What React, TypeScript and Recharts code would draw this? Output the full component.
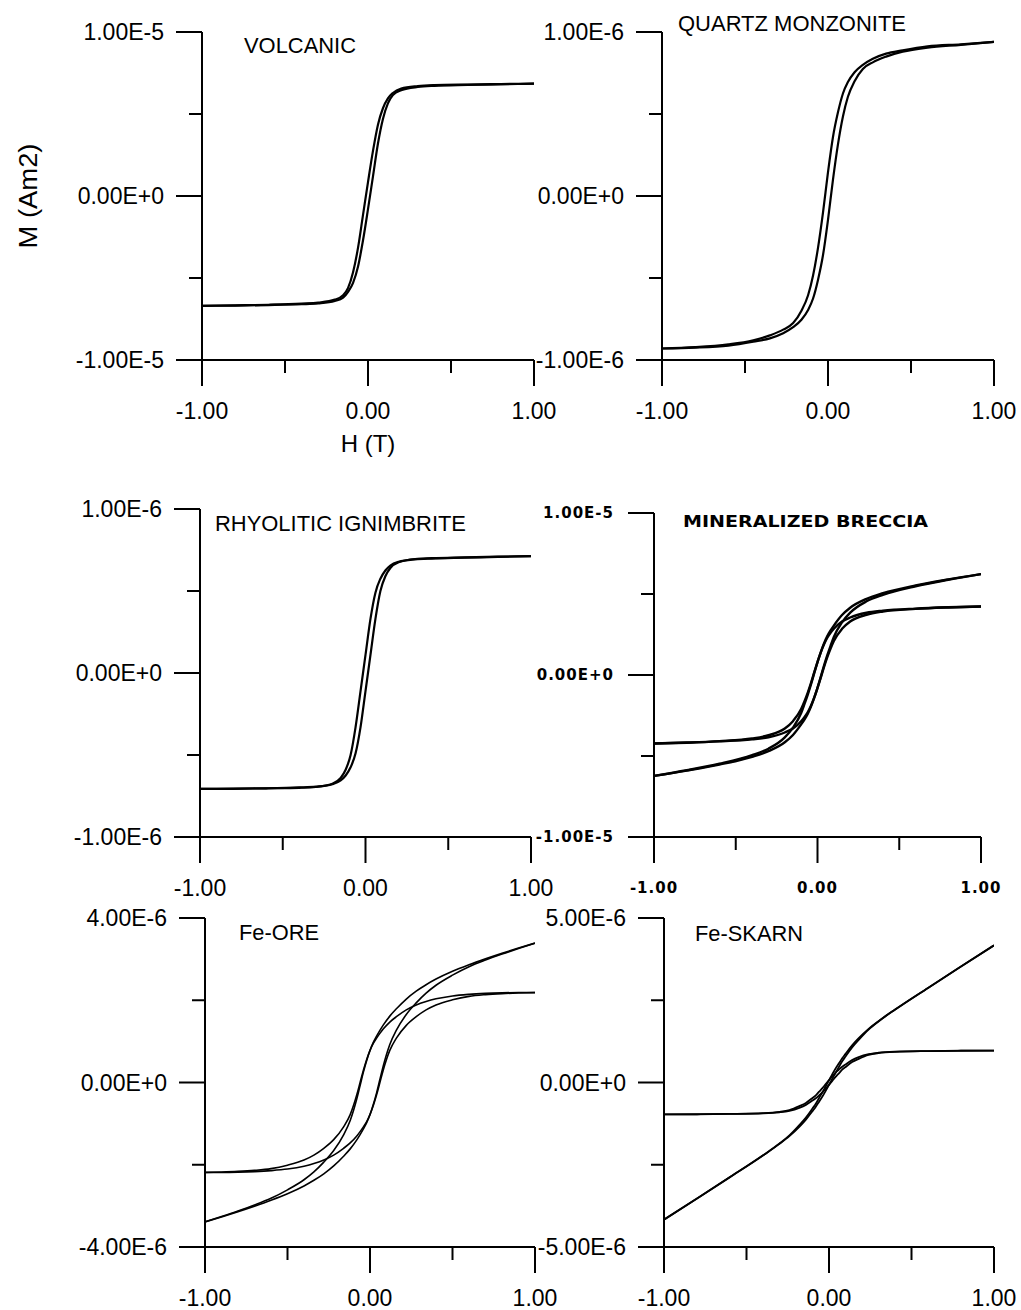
import React from 'react';
import { LineChart, Line, XAxis, YAxis } from 'recharts';

// ---------- applied field H (T) grids ----------
const H_VOLCANIC = [-1, -0.8, -0.6, -0.4, -0.3, -0.2, -0.15, -0.12, -0.09, -0.06, -0.03, 0, 0.03, 0.06, 0.09, 0.12, 0.15, 0.2, 0.3, 0.4, 0.6, 0.8, 1];
const H_QUARTZ = [-1, -0.8, -0.6, -0.45, -0.35, -0.27, -0.21, -0.16, -0.12, -0.09, -0.06, -0.03, 0, 0.03, 0.06, 0.09, 0.12, 0.16, 0.21, 0.27, 0.35, 0.45, 0.6, 0.8, 1];
const H_RHYOLITIC = [-1, -0.8, -0.6, -0.4, -0.3, -0.2, -0.15, -0.12, -0.09, -0.06, -0.03, 0, 0.03, 0.06, 0.09, 0.12, 0.15, 0.2, 0.3, 0.4, 0.6, 0.8, 1];
const H_BRECCIA = [-1, -0.8, -0.6, -0.4, -0.3, -0.2, -0.15, -0.1, -0.08, -0.06, -0.04, -0.02, 0, 0.02, 0.04, 0.06, 0.08, 0.1, 0.15, 0.2, 0.3, 0.4, 0.6, 0.8, 1];
const H_FEORE = [-1, -0.9, -0.8, -0.7, -0.6, -0.5, -0.4, -0.34, -0.28, -0.22, -0.16, -0.12, -0.08, -0.06, -0.04, -0.02, 0, 0.02, 0.04, 0.06, 0.08, 0.12, 0.16, 0.22, 0.28, 0.34, 0.4, 0.5, 0.6, 0.7, 0.8, 0.9, 1];
const H_FESKARN = [-1, -0.8, -0.6, -0.4, -0.3, -0.24, -0.18, -0.14, -0.1, -0.08, -0.06, -0.04, -0.02, 0, 0.02, 0.04, 0.06, 0.08, 0.1, 0.14, 0.18, 0.24, 0.3, 0.4, 0.6, 0.8, 1];

// ---------- magnetisation M (in units of each panel's exponent) ----------
// VOLCANIC (x 1E-5)
const M_VOLCANIC_ASC = [-0.670, -0.668, -0.665, -0.660, -0.655, -0.640, -0.620, -0.585, -0.530, -0.430, -0.270, -0.080, 0.120, 0.320, 0.470, 0.565, 0.615, 0.645, 0.665, 0.672, 0.677, 0.681, 0.685];
const M_VOLCANIC_DESC = [-0.670, -0.667, -0.663, -0.656, -0.650, -0.632, -0.605, -0.560, -0.465, -0.315, -0.115, 0.085, 0.275, 0.435, 0.535, 0.595, 0.628, 0.655, 0.670, 0.676, 0.680, 0.683, 0.685];
// QUARTZ MONZONITE (x 1E-6)
const M_QUARTZ_ASC = [-0.93, -0.925, -0.912, -0.888, -0.868, -0.837, -0.80, -0.755, -0.695, -0.625, -0.51, -0.36, -0.145, 0.10, 0.315, 0.485, 0.605, 0.70, 0.775, 0.815, 0.85, 0.88, 0.905, 0.922, 0.94];
const M_QUARTZ_DESC = [-0.93, -0.922, -0.905, -0.88, -0.85, -0.815, -0.775, -0.70, -0.605, -0.485, -0.315, -0.10, 0.145, 0.36, 0.51, 0.625, 0.695, 0.755, 0.80, 0.837, 0.868, 0.888, 0.912, 0.925, 0.94];
// RHYOLITIC IGNIMBRITE (x 1E-6)
const M_RHYOLITIC_ASC = [-0.707, -0.705, -0.703, -0.698, -0.693, -0.678, -0.655, -0.625, -0.575, -0.49, -0.33, -0.11, 0.11, 0.33, 0.50, 0.59, 0.64, 0.675, 0.695, 0.70, 0.705, 0.709, 0.713];
const M_RHYOLITIC_DESC = [-0.707, -0.706, -0.703, -0.70, -0.695, -0.675, -0.64, -0.59, -0.50, -0.33, -0.11, 0.11, 0.33, 0.49, 0.575, 0.625, 0.655, 0.678, 0.693, 0.698, 0.703, 0.708, 0.713];
// MINERALIZED BRECCIA (x 1E-5): raw loop and slope-corrected loop
const M_BRECCIA_RAW_ASC = [-0.623, -0.59, -0.553, -0.505, -0.47, -0.415, -0.37, -0.305, -0.275, -0.24, -0.195, -0.14, -0.08, -0.012, 0.058, 0.122, 0.18, 0.235, 0.325, 0.385, 0.455, 0.495, 0.548, 0.588, 0.623];
const M_BRECCIA_RAW_DESC = [-0.623, -0.588, -0.548, -0.495, -0.455, -0.385, -0.325, -0.235, -0.18, -0.122, -0.058, 0.012, 0.08, 0.14, 0.195, 0.24, 0.275, 0.305, 0.37, 0.415, 0.47, 0.505, 0.553, 0.59, 0.623];
const M_BRECCIA_COR_ASC = [-0.423, -0.418, -0.41, -0.397, -0.384, -0.355, -0.33, -0.285, -0.26, -0.23, -0.19, -0.14, -0.08, -0.016, 0.05, 0.11, 0.163, 0.21, 0.285, 0.33, 0.372, 0.392, 0.408, 0.417, 0.423];
const M_BRECCIA_COR_DESC = [-0.423, -0.417, -0.408, -0.392, -0.372, -0.33, -0.285, -0.21, -0.163, -0.11, -0.05, 0.016, 0.08, 0.14, 0.19, 0.23, 0.26, 0.285, 0.33, 0.355, 0.384, 0.397, 0.41, 0.418, 0.423];
// Fe-ORE (x 1E-6)
const M_FEORE_RAW_ASC = [-3.39, -3.268, -3.14, -3.006, -2.863, -2.705, -2.515, -2.378, -2.221, -2.029, -1.792, -1.614, -1.396, -1.267, -1.128, -0.974, -0.78, -0.536, -0.252, 0.072, 0.396, 0.924, 1.272, 1.654, 1.936, 2.173, 2.365, 2.61, 2.815, 2.977, 3.122, 3.257, 3.386];
const M_FEORE_RAW_DESC = [-3.386, -3.257, -3.122, -2.977, -2.815, -2.61, -2.365, -2.173, -1.936, -1.654, -1.272, -0.924, -0.396, -0.072, 0.252, 0.536, 0.78, 0.974, 1.128, 1.267, 1.396, 1.614, 1.792, 2.029, 2.221, 2.378, 2.515, 2.705, 2.863, 3.006, 3.14, 3.268, 3.39];
const M_FEORE_COR_ASC = [-2.19, -2.188, -2.18, -2.166, -2.143, -2.105, -2.035, -1.97, -1.885, -1.765, -1.60, -1.47, -1.30, -1.195, -1.08, -0.95, -0.78, -0.56, -0.30, 0, 0.30, 0.78, 1.08, 1.39, 1.60, 1.765, 1.885, 2.01, 2.095, 2.137, 2.162, 2.177, 2.186];
const M_FEORE_COR_DESC = [-2.186, -2.177, -2.162, -2.137, -2.095, -2.01, -1.885, -1.765, -1.60, -1.39, -1.08, -0.78, -0.30, 0, 0.30, 0.56, 0.78, 0.95, 1.08, 1.195, 1.30, 1.47, 1.60, 1.765, 1.885, 1.97, 2.035, 2.105, 2.143, 2.166, 2.18, 2.188, 2.19];
// Fe-SKARN (x 1E-6)
const M_FESKARN_RAW_ASC = [-4.17, -3.526, -2.876, -2.217, -1.865, -1.628, -1.346, -1.128, -0.87, -0.736, -0.582, -0.428, -0.254, -0.07, 0.114, 0.298, 0.472, 0.646, 0.79, 1.068, 1.296, 1.608, 1.855, 2.213, 2.875, 3.525, 4.17];
const M_FESKARN_RAW_DESC = [-4.17, -3.525, -2.875, -2.213, -1.855, -1.608, -1.296, -1.068, -0.79, -0.646, -0.472, -0.298, -0.114, 0.07, 0.254, 0.428, 0.582, 0.736, 0.87, 1.128, 1.346, 1.628, 1.865, 2.217, 2.876, 3.526, 4.17];
const M_FESKARN_COR_ASC = [-0.97, -0.966, -0.956, -0.937, -0.905, -0.86, -0.77, -0.68, -0.55, -0.48, -0.39, -0.30, -0.19, -0.07, 0.05, 0.17, 0.28, 0.39, 0.47, 0.62, 0.72, 0.84, 0.895, 0.933, 0.955, 0.965, 0.97];
const M_FESKARN_COR_DESC = [-0.97, -0.965, -0.955, -0.933, -0.895, -0.84, -0.72, -0.62, -0.47, -0.39, -0.28, -0.17, -0.05, 0.07, 0.19, 0.30, 0.39, 0.48, 0.55, 0.68, 0.77, 0.86, 0.905, 0.937, 0.956, 0.966, 0.97];

// ---------- axis settings ----------
const X_TICKS = [-1, -0.5, 0, 0.5, 1];
const TITLES = ['VOLCANIC', 'QUARTZ MONZONITE', 'RHYOLITIC IGNIMBRITE', 'MINERALIZED BRECCIA', 'Fe-ORE', 'Fe-SKARN'];
const Y_UNITS = [1e-5, 1e-6, 1e-6, 1e-5, 1e-6, 1e-6];
const Y_MAX = [1, 1, 1, 1, 4, 5];
const X_AXIS_TITLE = 'H (T)';
const Y_AXIS_TITLE = 'M (Am2)';

type PanelDef = {
  title: string;
  h: number[];
  branches: number[][];
  unit: number;
  yMax: number;
};

const PANELS: PanelDef[] = [
  { title: TITLES[0], h: H_VOLCANIC, branches: [M_VOLCANIC_ASC, M_VOLCANIC_DESC], unit: Y_UNITS[0], yMax: Y_MAX[0] },
  { title: TITLES[1], h: H_QUARTZ, branches: [M_QUARTZ_ASC, M_QUARTZ_DESC], unit: Y_UNITS[1], yMax: Y_MAX[1] },
  { title: TITLES[2], h: H_RHYOLITIC, branches: [M_RHYOLITIC_ASC, M_RHYOLITIC_DESC], unit: Y_UNITS[2], yMax: Y_MAX[2] },
  { title: TITLES[3], h: H_BRECCIA, branches: [M_BRECCIA_RAW_ASC, M_BRECCIA_RAW_DESC, M_BRECCIA_COR_ASC, M_BRECCIA_COR_DESC], unit: Y_UNITS[3], yMax: Y_MAX[3] },
  { title: TITLES[4], h: H_FEORE, branches: [M_FEORE_RAW_ASC, M_FEORE_RAW_DESC, M_FEORE_COR_ASC, M_FEORE_COR_DESC], unit: Y_UNITS[4], yMax: Y_MAX[4] },
  { title: TITLES[5], h: H_FESKARN, branches: [M_FESKARN_RAW_ASC, M_FESKARN_RAW_DESC, M_FESKARN_COR_ASC, M_FESKARN_COR_DESC], unit: Y_UNITS[5], yMax: Y_MAX[5] },
];

// ---------- layout (plot boxes in page pixels) ----------
type Layout = {
  box: [number, number, number, number];
  title: [number, number, number];
  pixel: boolean;
  stroke: number;
};
const LAYOUT: Layout[] = [
  { box: [202, 534, 32, 360], title: [244, 45, 112], pixel: false, stroke: 2.2 },
  { box: [662, 994, 32, 360], title: [678, 23, 228], pixel: false, stroke: 2.2 },
  { box: [200, 531, 509, 837], title: [215, 523, 251], pixel: false, stroke: 2.2 },
  { box: [654, 981, 513, 837], title: [683, 522, 245], pixel: true, stroke: 2.4 },
  { box: [205, 535, 918, 1247], title: [239, 932, 80], pixel: false, stroke: 1.6 },
  { box: [664, 994, 918, 1247], title: [695, 933, 108], pixel: false, stroke: 1.8 },
];

const ARIAL = { fontFamily: '"Liberation Sans", Arial, sans-serif', fontSize: 23, fill: '#000' };
const PIXEL = { fontFamily: '"DejaVu Sans", sans-serif', fontSize: 15, fontWeight: 700, fill: '#000', letterSpacing: 1 };

function Panel({ d, lay }: { d: PanelDef; lay: Layout }) {
  const [x0, x1, y0, y1] = lay.box;
  const L = 170, T = 20, R = 40, B = 90;
  const w = x1 - x0 + L + R;
  const hgt = y1 - y0 + T + B;
  const font = lay.pixel ? PIXEL : ARIAL;
  const yTicks = [-d.yMax, -d.yMax / 2, 0, d.yMax / 2, d.yMax];

  const yTick = (props: any) => {
    const { x, y, payload } = props;
    const v = payload.value;
    const major = Math.abs(v) < 1e-12 || Math.abs(Math.abs(v) - d.yMax) < 1e-9;
    const len = major ? 26 : 13;
    return (
      <g>
        <line x1={x - len} y1={y} x2={x} y2={y} stroke="#000" strokeWidth={2} />
        {major && (
          <text x={x - len - (lay.pixel ? 14 : 12)} y={y} textAnchor="end" dominantBaseline="central" {...font}>
            {(v * d.unit).toExponential(2).toUpperCase()}
          </text>
        )}
      </g>
    );
  };

  const xTick = (props: any) => {
    const { x, y, payload } = props;
    const v = payload.value;
    const major = Math.abs(v) < 1e-12 || Math.abs(Math.abs(v) - 1) < 1e-9;
    const len = major ? 26 : 13;
    return (
      <g>
        <line x1={x} y1={y} x2={x} y2={y + len} stroke="#000" strokeWidth={2} />
        {major && (
          <text x={x} y={y + 51} textAnchor="middle" dominantBaseline="central" {...font}>
            {v.toFixed(2)}
          </text>
        )}
      </g>
    );
  };

  const series = d.branches.map((b) => d.h.map((h, i) => ({ h, m: b[i] })));

  return (
    <div style={{ position: 'absolute', left: x0 - L, top: y0 - T }}>
      <LineChart width={w} height={hgt} margin={{ top: T, right: R, bottom: 0, left: 0 }}>
        <XAxis
          type="number"
          dataKey="h"
          domain={[-1, 1]}
          ticks={X_TICKS}
          interval={0}
          height={B}
          tickSize={0}
          tickMargin={0}
          tickLine={false}
          axisLine={{ stroke: '#000', strokeWidth: 2 }}
          tick={xTick}
          allowDataOverflow
        />
        <YAxis
          type="number"
          domain={[-d.yMax, d.yMax]}
          ticks={yTicks}
          interval={0}
          width={L}
          tickSize={0}
          tickMargin={0}
          tickLine={false}
          axisLine={{ stroke: '#000', strokeWidth: 2 }}
          tick={yTick}
          allowDataOverflow
        />
        {series.map((s, i) => (
          <Line
            key={i}
            data={s}
            dataKey="m"
            type="monotone"
            dot={false}
            stroke="#000"
            strokeWidth={lay.stroke}
            isAnimationActive={false}
          />
        ))}
      </LineChart>
    </div>
  );
}

export default function App() {
  return (
    <div style={{ position: 'absolute', left: 0, top: 0, width: 1021, height: 1310, background: '#fff', overflow: 'hidden' }}>
      {PANELS.map((d, i) => (
        <Panel key={i} d={d} lay={LAYOUT[i]} />
      ))}
      <svg width={1021} height={1310} style={{ position: 'absolute', left: 0, top: 0, pointerEvents: 'none' }}>
        {PANELS.map((d, i) => {
          const lay = LAYOUT[i];
          const f = lay.pixel ? { ...PIXEL, fontSize: 15, letterSpacing: 0 } : { ...ARIAL, fontSize: 22 };
          return (
            <text key={i} x={lay.title[0]} y={lay.title[1]} dominantBaseline="central" textLength={lay.title[2]} lengthAdjust="spacingAndGlyphs" {...f}>
              {d.title}
            </text>
          );
        })}
        <text x={368} y={443} textAnchor="middle" dominantBaseline="central" {...ARIAL} fontSize={24}>
          {X_AXIS_TITLE}
        </text>
        <text
          x={28}
          y={196}
          textAnchor="middle"
          dominantBaseline="central"
          transform="rotate(-90 28 196)"
          textLength={105}
          lengthAdjust="spacingAndGlyphs"
          {...ARIAL}
          fontSize={26}
        >
          {Y_AXIS_TITLE}
        </text>
      </svg>
    </div>
  );
}
